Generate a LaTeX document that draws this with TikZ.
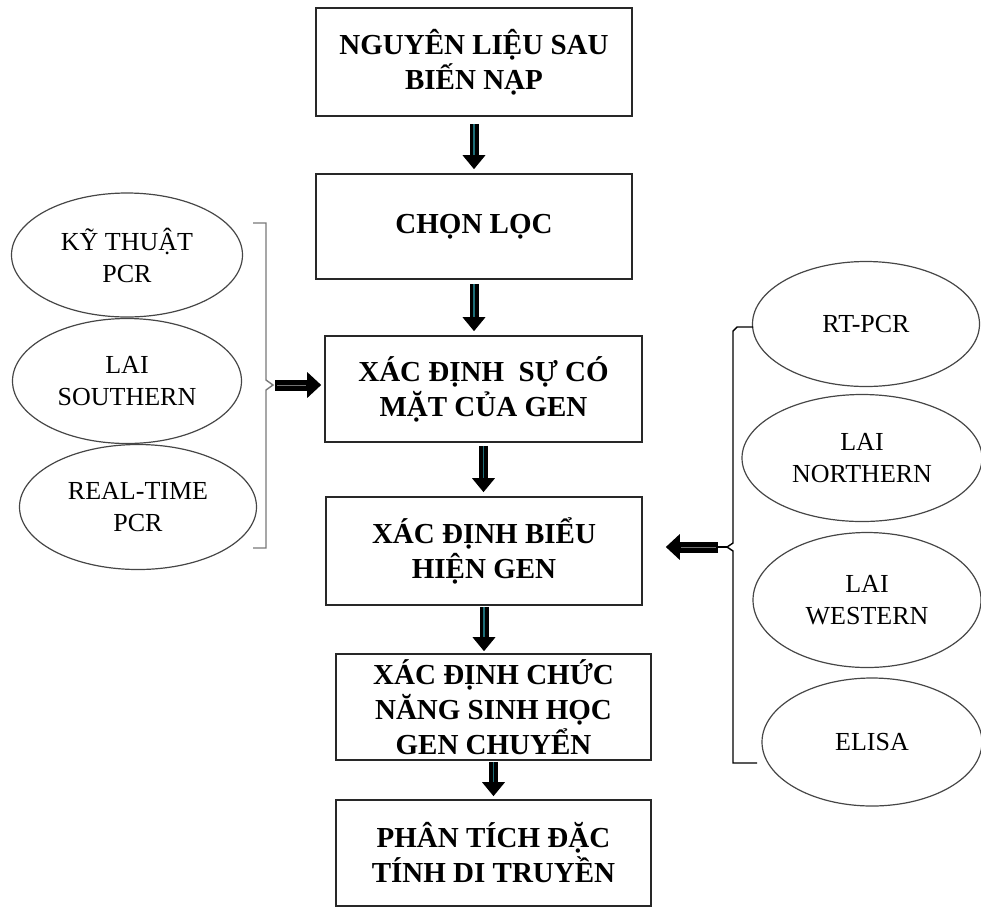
\documentclass[tikz,border=0pt]{standalone}
\usepackage{fontspec}
\setmainfont{Liberation Serif}
\usetikzlibrary{positioning, arrows.meta, shapes.geometric, calc}
\definecolor{boxline}{RGB}{40, 40, 40}
\definecolor{ovalline}{RGB}{70, 70, 70}
\definecolor{brackline}{RGB}{120, 120, 120}
\definecolor{shaftline}{RGB}{30, 110, 120}

\begin{document}
\begin{tikzpicture}[
        x=1pt, y=-1pt,
        stepbox/.style={draw=boxline, line width=1.6pt, fill=white, minimum width=316pt, minimum height=106pt, inner sep=0pt, align=center, font=\fontsize{29}{35}\selectfont\bfseries},
        method/.style={draw=ovalline, line width=1.2pt, ellipse, inner sep=0pt, align=center, font=\fontsize{26}{32}\selectfont},
        downarrow/.style={line width=9pt, -{Triangle[width=22pt,length=14pt]}, postaction={draw=shaftline, line width=1.5pt, -, shorten >=14pt}},
        sidearrow/.style={line width=11pt, -{Triangle[width=25pt,length=14pt]}, postaction={draw=black!55, line width=0.7pt, -, shorten >=15pt, shorten <=2pt}},
        bracket/.style={line width=1.4pt}
    ]
        \useasboundingbox (0,0) rectangle (981,906);

        % main steps
        \node[stepbox, minimum height=108pt] (b1) at (474,62) {NGUYÊN LIỆU SAU\\BIẾN NẠP};
        \node[stepbox, minimum height=105pt] (b2) at (474,226.5) {CHỌN LỌC};
        \node[stepbox, minimum width=317pt] (b3) at (483.5,389) {XÁC ĐỊNH\ \ SỰ CÓ\\MẶT CỦA GEN};
        \node[stepbox, minimum height=108pt] (b4) at (484,551) {XÁC ĐỊNH BIỂU\\HIỆN GEN};
        \node[stepbox, minimum width=315pt] (b5) at (493.5,707) {XÁC ĐỊNH CHỨC\\NĂNG SINH HỌC\\GEN CHUYỂN};
        \node[stepbox, minimum width=315pt] (b6) at (493.5,853) {PHÂN TÍCH ĐẶC\\TÍNH DI TRUYỀN};

        \draw[downarrow] ($(b1.south)+(0,7)$) -- ($(b2.north)+(0,-4)$);
        \draw[downarrow] ($(b2.south)+(0,4)$) -- ($(b2.south |- b3.north)+(0,-4)$);
        \draw[downarrow] ($(b3.south)+(0,3)$) -- ($(b3.south |- b4.north)+(0,-4)$);
        \draw[downarrow] ($(b4.south)+(0,1)$) -- ($(b4.south |- b5.north)+(0,-2)$);
        \draw[downarrow] ($(b5.south)+(0,1)$) -- ($(b6.north)+(0,-3)$);

        % left methods
        \node[method, minimum width=231pt, minimum height=124pt] (m1) at (127,255) {KỸ THUẬT\\PCR};
        \node[method, minimum width=229pt, minimum height=125pt] (m2) at (127,381) {LAI\\SOUTHERN};
        \node[method, minimum width=237pt, minimum height=125pt] (m3) at (138,507) {REAL-TIME\\PCR};

        \coordinate (lcusp) at (273,385);
        \draw[bracket, brackline] (253,223) -- (266,223) -- (266,380) -- (lcusp) -- (266,390) -- (266,548) -- (253,548);
        \draw[sidearrow] ($(lcusp)+(2,0)$) -- ($(b3.west |- lcusp)+(-3,0)$);

        % right methods
        \node[method, minimum width=227pt, minimum height=125pt] (r1) at (866,324) {RT-PCR};
        \node[method, minimum width=240pt, minimum height=127pt] (r2) at (862,458) {LAI\\NORTHERN};
        \node[method, minimum width=228pt, minimum height=135pt] (r3) at (867,600) {LAI\\WESTERN};
        \node[method, minimum width=220pt, minimum height=128pt] (r4) at (872,742) {ELISA};

        \coordinate (rcusp) at (727,547);
        \coordinate (rtail) at (718,547);
        \draw[bracket] (753,327) -- (737,327) -- (733,331) -- (733,543) -- (rcusp) -- (733,551) -- (733,763) -- (757,763);
        \draw[bracket] (rcusp) -- (rtail);
        \draw[sidearrow] (rtail) -- ($(b4.east |- rtail)+(23,0)$);
    \end{tikzpicture}
\end{document}
